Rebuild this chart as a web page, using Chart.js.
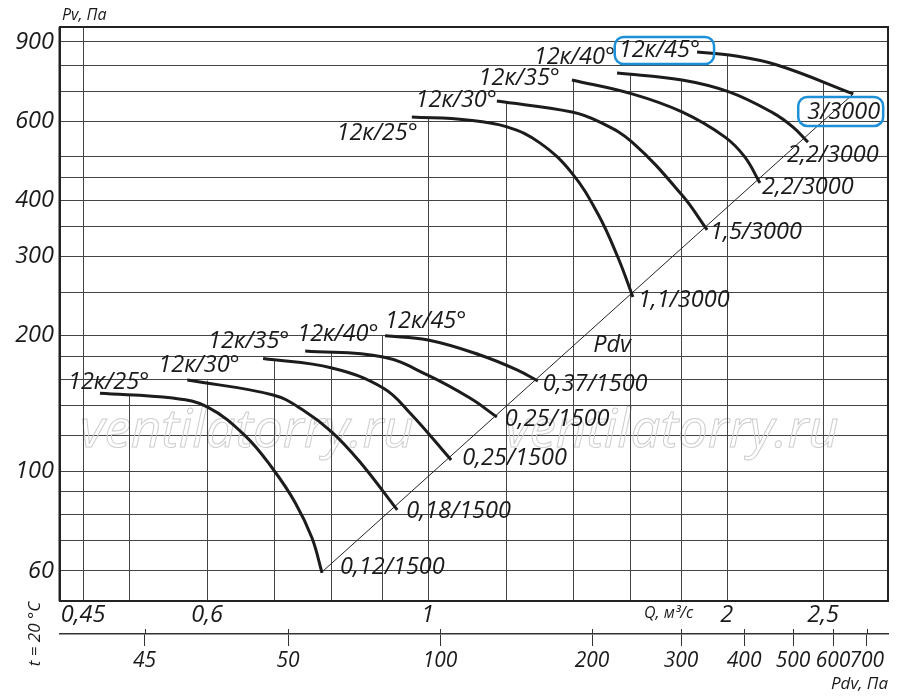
<!DOCTYPE html>
<html>
<head>
<meta charset="utf-8">
<script src="https://cdn.jsdelivr.net/npm/chart.js@4/dist/chart.umd.min.js"></script>
<style>
  html, body { margin: 0; padding: 0; background: #fff; }
  #wrap { width: 900px; height: 699px; }
</style>
</head>
<body>
<div id="wrap"><canvas id="grafico"></canvas></div>
<script>
// Q, м³/с axis
const qTicks = [0.45, 0.6, 1, 2, 2.5];
const qTickLabels = ['0,45', '0,6', '1', '2', '2,5'];
// Pdv, Па axis (first tick is printed "45" in the original)
const pdvTicks = [26, 50, 100, 200, 300, 400, 500, 600, 700];
const pdvTickLabels = ['45', '50', '100', '200', '300', '400', '500', '600', '700'];
// Pv, Па grid lines and printed labels
const pvGrid = [60, 70, 80, 90, 100, 120, 140, 160, 180, 200, 250, 300, 350, 400, 450, 500, 600, 700, 800, 900];
const pvTickLabels = [60, 100, 200, 300, 400, 600, 900];
// vertical grid lines, each stops under the curve above it (null = full height)
const vGridQ = [0.45, 0.5, 0.6, 0.7, 0.8, 0.9, 1, 1.2, 1.4, 1.6, 1.8, 2, 2.5];
const vGridTop = [null, 148, 159, 176, 184, 200, 613, 662, 741, 765, 741, 842, 729];

const angleNames = ['12к/25°', '12к/30°', '12к/35°', '12к/40°', '12к/45°'];
const motors1500 = ['0,12/1500', '0,18/1500', '0,25/1500', '0,25/1500', '0,37/1500'];
const motors3000 = ['1,1/3000', '1,5/3000', '2,2/3000', '2,2/3000', '3/3000'];

// 1500 rpm
const q1500_25 = [0.468, 0.554, 0.600, 0.655, 0.699, 0.736, 0.765, 0.783];
const pv1500_25 = [149, 145.4, 139, 120, 101, 85, 71, 59.4];
const q1500_30 = [0.573, 0.699, 0.749, 0.801, 0.855, 0.932];
const pv1500_30 = [159.5, 147.7, 136.8, 122.2, 104.8, 82.0];
const q1500_35 = [0.683, 0.801, 0.902, 0.960, 1.056];
const pv1500_35 = [178, 169.6, 153.1, 134.7, 105.9];
const q1500_40 = [0.753, 0.902, 0.999, 1.103, 1.174];
const pv1500_40 = [185, 179.4, 163.7, 145.4, 132];
const q1500_45 = [0.906, 1.001, 1.129, 1.230, 1.291];
const pv1500_45 = [200, 195.7, 181.3, 168, 158.7];

// 3000 rpm
const q3000_25 = [0.964, 1.096, 1.202, 1.297, 1.397, 1.484, 1.554, 1.609];
const pv3000_25 = [613, 604, 583, 537, 460, 373, 299, 244];
const q3000_30 = [1.174, 1.397, 1.491, 1.606, 1.803, 1.911];
const pv3000_30 = [665, 629, 597, 539, 411, 344];
const q3000_35 = [1.397, 1.606, 1.803, 1.992, 2.086, 2.160];
const pv3000_35 = [741, 690, 629, 553, 499, 437];
const q3000_40 = [1.551, 1.803, 2.011, 2.226, 2.332, 2.414];
const pv3000_40 = [768, 741, 697, 626, 582, 539];
const q3000_45 = [1.867, 2.011, 2.247, 2.681];
const pv3000_45 = [855, 842, 800, 690];

// Pdv line
const pdvLineQ = [0.781, 2.681];
const pdvLinePv = [59.4, 690];

// label placement (pixel offsets from curve start / end)
const curves = [
  { q: q1500_25, pv: pv1500_25, name: angleNames[0], motor: motors1500[0], align: 'left', a: [-32, -11], m: [18, -6] },
  { q: q1500_30, pv: pv1500_30, name: angleNames[1], motor: motors1500[1], align: 'left', a: [-29, -15], m: [9, 1] },
  { q: q1500_35, pv: pv1500_35, name: angleNames[2], motor: motors1500[2], align: 'left', a: [-55, -17], m: [11, -2] },
  { q: q1500_40, pv: pv1500_40, name: angleNames[3], motor: motors1500[3], align: 'left', a: [-8, -17], m: [8, 2] },
  { q: q1500_45, pv: pv1500_45, name: angleNames[4], motor: motors1500[4], align: 'left', a: [0, -14], m: [5, 3] },
  { q: q3000_25, pv: pv3000_25, name: angleNames[0], motor: motors3000[0], align: 'right', a: [6, 16], m: [5, 3] },
  { q: q3000_30, pv: pv3000_30, name: angleNames[1], motor: motors3000[1], align: 'right', a: [0, -1], m: [3, 2] },
  { q: q3000_35, pv: pv3000_35, name: angleNames[2], motor: motors3000[2], align: 'right', a: [-12, -2], m: [2, 4] },
  { q: q3000_40, pv: pv3000_40, name: angleNames[3], motor: motors3000[3], align: 'right', a: [-2, -16], m: [-21, 13] },
  { q: q3000_45, pv: pv3000_45, name: angleNames[4], motor: motors3000[4], align: 'right', a: [3, -2], m: [-46, 18],
    angleBox: [4, 13, 14, 14], motorBox: [9, 15, 3, 14] }
];

const FONT = '"Open Sans", "DejaVu Sans", sans-serif';
const ink = '#1a1a1a';
const tickFont = { family: FONT, size: 23.5, style: 'italic' };

const datasets = curves.map(c => ({
  data: c.q.map((q, i) => ({ x: q, y: c.pv[i] })),
  borderColor: '#1c1c1c',
  borderWidth: 3,
  pointRadius: 0,
  tension: 0.4,
  fill: false
}));
datasets.push({
  data: pdvLineQ.map((q, i) => ({ x: q, y: pdvLinePv[i] })),
  borderColor: '#222',
  borderWidth: 1,
  pointRadius: 0,
  tension: 0,
  fill: false
});

function roundBox(ctx, x, y, w, h, r) {
  ctx.beginPath();
  ctx.moveTo(x + r, y);
  ctx.arcTo(x + w, y, x + w, y + h, r);
  ctx.arcTo(x + w, y + h, x, y + h, r);
  ctx.arcTo(x, y + h, x, y, r);
  ctx.arcTo(x, y, x + w, y, r);
  ctx.closePath();
  ctx.stroke();
}

const extras = {
  id: 'extras',
  beforeDatasetsDraw(chart) {
    const { ctx, chartArea: a, scales: { x, y } } = chart;
    ctx.save();
    // watermark
    ctx.font = 'italic 53px ' + FONT;
    ctx.strokeStyle = '#cdcdcd';
    ctx.lineWidth = 1;
    ctx.textBaseline = 'alphabetic';
    ctx.strokeText('ventilatorry.ru', 80, 447);
    ctx.strokeText('ventilatorry.ru', 505, 447);
    // partial vertical grid
    ctx.strokeStyle = '#444';
    ctx.lineWidth = 1;
    vGridQ.forEach((q, i) => {
      const px = Math.round(x.getPixelForValue(q)) + 0.5;
      const top = vGridTop[i] == null ? a.top : y.getPixelForValue(vGridTop[i]);
      ctx.beginPath();
      ctx.moveTo(px, a.bottom);
      ctx.lineTo(px, top);
      ctx.stroke();
    });
    ctx.restore();
  },
  afterDatasetsDraw(chart) {
    const { ctx, chartArea: a, scales: { x, y, x2 } } = chart;
    ctx.save();
    ctx.font = 'italic 23.5px ' + FONT;
    ctx.fillStyle = ink;
    ctx.textBaseline = 'middle';
    curves.forEach((c, i) => {
      const pts = chart.getDatasetMeta(i).data;
      const s = pts[0], e = pts[pts.length - 1];
      // blade angle label
      ctx.textAlign = c.align;
      const ax = s.x + c.a[0], ay = s.y + c.a[1];
      ctx.fillText(c.name, ax, ay);
      if (c.angleBox) {
        const w = ctx.measureText(c.name).width;
        const l = c.align === 'right' ? ax - w : ax;
        ctx.strokeStyle = '#1e90d8';
        ctx.lineWidth = 2.5;
        roundBox(ctx, l - c.angleBox[0], ay - c.angleBox[1], w + c.angleBox[0] + c.angleBox[2], c.angleBox[1] + c.angleBox[3], 9);
      }
      // motor label
      ctx.textAlign = 'left';
      const mx = e.x + c.m[0], my = e.y + c.m[1];
      ctx.fillText(c.motor, mx, my);
      if (c.motorBox) {
        const w = ctx.measureText(c.motor).width;
        ctx.strokeStyle = '#1e90d8';
        ctx.lineWidth = 2.5;
        roundBox(ctx, mx - c.motorBox[0], my - c.motorBox[1], w + c.motorBox[0] + c.motorBox[2], c.motorBox[1] + c.motorBox[3], 9);
      }
    });
    // Pdv line label
    ctx.textAlign = 'center';
    ctx.fillText('Pdv', x.getPixelForValue(1.533), y.getPixelForValue(190));
    // frame
    ctx.strokeStyle = '#222';
    ctx.lineWidth = 2;
    ctx.strokeRect(a.left, a.top, a.right - a.left, a.bottom - a.top);
    ctx.beginPath();
    ctx.moveTo(a.left - 0.5, a.top);
    ctx.lineTo(a.left - 0.5, a.bottom);
    ctx.stroke();
    // small upward part of the Pdv ticks
    ctx.lineWidth = 1;
    ctx.strokeStyle = '#333';
    pdvTicks.forEach(v => {
      const px = Math.round(x2.getPixelForValue(v)) + 0.5;
      ctx.beginPath();
      ctx.moveTo(px, x2.top - 5);
      ctx.lineTo(px, x2.top);
      ctx.stroke();
    });
    ctx.restore();
  },
  afterDraw(chart) {
    const { ctx, chartArea: a } = chart;
    ctx.save();
    ctx.fillStyle = ink;
    ctx.textBaseline = 'middle';
    ctx.font = 'italic 16px ' + FONT;
    ctx.textAlign = 'left';
    ctx.fillText('Pv, Па', a.left + 2, 15);
    ctx.font = 'italic 16px ' + FONT;
    ctx.fillText('Q, м³/с', 644, 613);
    ctx.font = 'italic 17px ' + FONT;
    ctx.textAlign = 'right';
    ctx.fillText('Pdv, Па', a.right, 684);
    ctx.translate(35, 634);
    ctx.rotate(-Math.PI / 2);
    ctx.textAlign = 'center';
    ctx.fillText('t = 20 °C', 0, 0);
    ctx.restore();
  }
};

const ctx = document.getElementById('grafico').getContext('2d');
new Chart(ctx, {
  type: 'line',
  data: { datasets: datasets },
  plugins: [extras],
  options: {
    responsive: true,
    maintainAspectRatio: false,
    animation: false,
    layout: { padding: { top: 27, right: 12, left: 0, bottom: 0 } },
    plugins: { legend: { display: false }, tooltip: { enabled: false } },
    scales: {
      x: {
        type: 'logarithmic',
        position: 'bottom',
        weight: 0,
        min: 0.4266,
        max: 2.906,
        afterBuildTicks: s => { s.ticks = qTicks.map(v => ({ value: v })); },
        afterFit: s => { s.height = 33; },
        grid: { display: false, drawTicks: false },
        border: { display: false },
        ticks: {
          autoSkip: false, maxRotation: 0, padding: 0, color: ink, font: tickFont,
          callback: v => { const i = qTicks.indexOf(v); return i < 0 ? '' : qTickLabels[i]; }
        }
      },
      x2: {
        type: 'logarithmic',
        position: 'bottom',
        weight: 1,
        min: 17.68,
        max: 770.9,
        afterBuildTicks: s => { s.ticks = pdvTicks.map(v => ({ value: v })); },
        afterFit: s => { s.height = 65; },
        grid: { drawOnChartArea: false, drawTicks: true, tickLength: 12, color: '#333', lineWidth: 1 },
        border: { display: true, color: '#333', width: 1.5 },
        ticks: {
          autoSkip: false, maxRotation: 0, padding: 2, color: ink,
          font: { family: FONT, size: 21, style: 'italic' },
          callback: v => { const i = pdvTicks.indexOf(v); return i < 0 ? '' : pdvTickLabels[i]; }
        }
      },
      y: {
        type: 'logarithmic',
        min: 51.45,
        max: 971.8,
        afterBuildTicks: s => { s.ticks = pvGrid.map(v => ({ value: v })); },
        afterFit: s => { s.width = 60; },
        grid: { color: '#444', lineWidth: 1, drawTicks: false },
        border: { display: false },
        ticks: {
          autoSkip: false, padding: 6, color: ink, font: tickFont,
          callback: v => pvTickLabels.includes(v) ? String(v) : ''
        }
      }
    }
  }
});
</script>
</body>
</html>
